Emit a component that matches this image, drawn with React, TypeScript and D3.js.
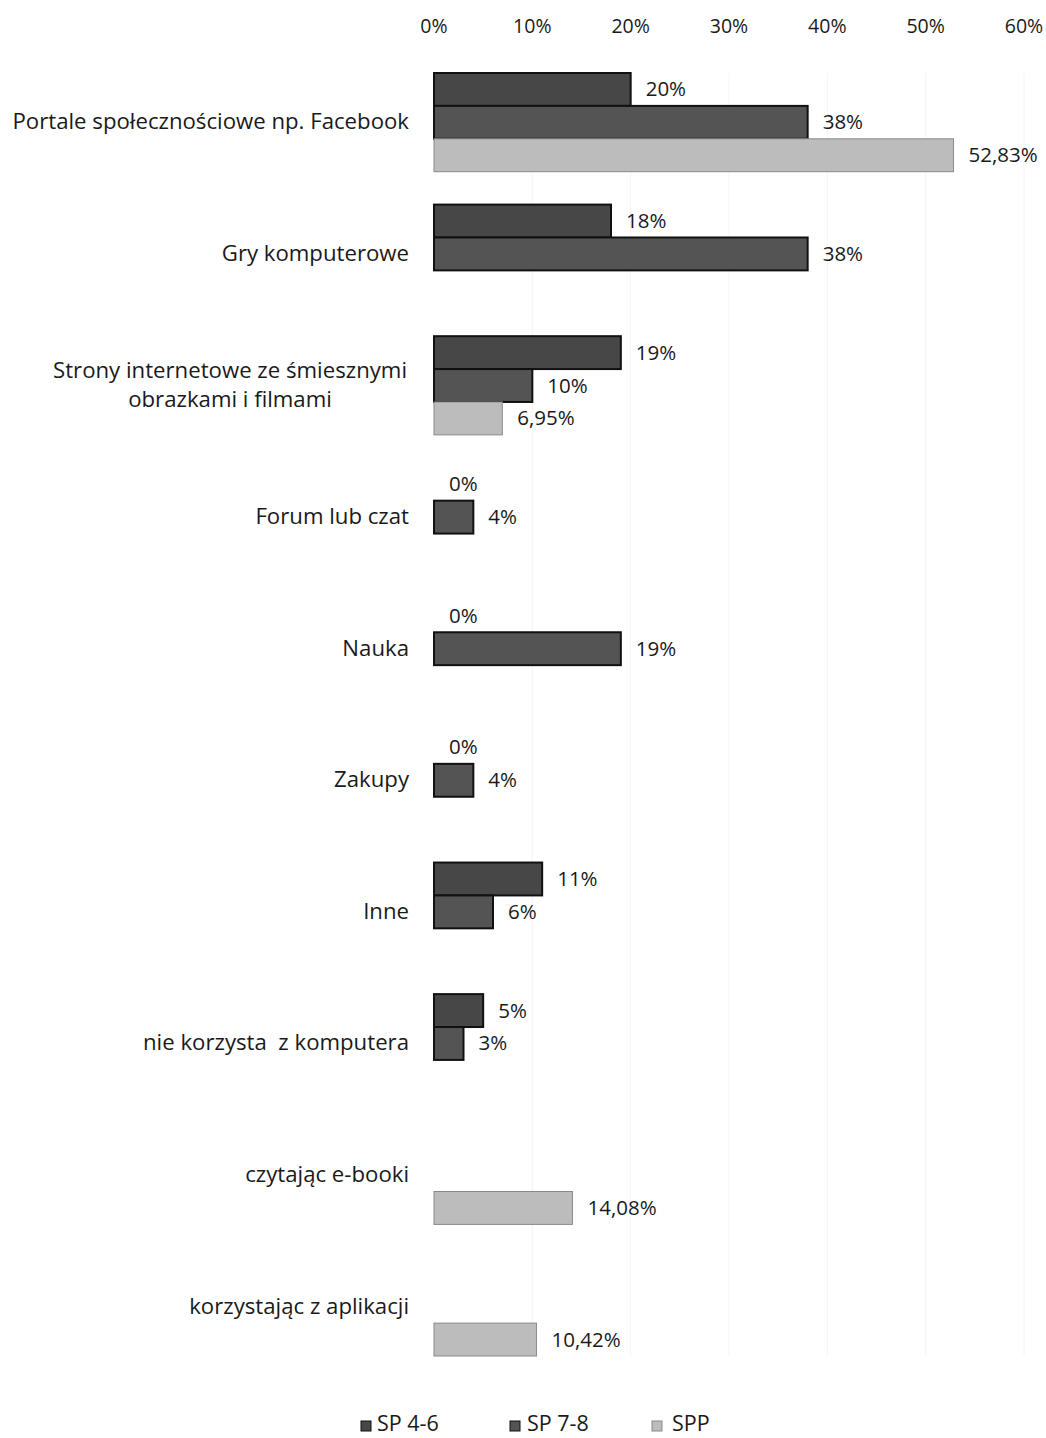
import * as d3 from "d3";

const categories = [
  ["Portale społecznościowe np. Facebook"],
  ["Gry komputerowe"],
  ["Strony internetowe ze śmiesznymi", "obrazkami i filmami"],
  ["Forum lub czat"],
  ["Nauka"],
  ["Zakupy"],
  ["Inne"],
  ["nie korzysta  z komputera"],
  ["czytając e-booki"],
  ["korzystając z aplikacji"],
];

const seriesNames = ["SP 4-6", "SP 7-8", "SPP"];
const seriesColors = ["#474747", "#545454", "#bcbcbc"];
const seriesStroke = ["#111111", "#111111", "#8a8a8a"];

// null = no bar for that group
const sp46 = [20, 18, 19, 0, 0, 0, 11, 5, null, null];
const sp78 = [38, 38, 10, 4, 19, 4, 6, 3, null, null];
const spp = [52.83, null, 6.95, null, null, null, null, null, 14.08, 10.42];

const ticks = [0, 10, 20, 30, 40, 50, 60];

const fmt = (v: number) =>
  Number.isInteger(v) ? `${v}%` : `${v.toFixed(2).replace(".", ",")}%`;

export default function App() {
  const width = 1046;
  const height = 1438;
  const font = "'Open Sans', sans-serif";

  const x = d3.scaleLinear().domain([0, 60]).range([434, 1024]);
  const keys = categories.map((_, i) => String(i));
  const y = d3
    .scaleBand<string>()
    .domain(keys)
    .range([73, 1356])
    .paddingInner(0.25)
    .paddingOuter(0);
  const inner = d3
    .scaleBand<number>()
    .domain([0, 1, 2])
    .range([0, y.bandwidth()]);

  const allSeries = [sp46, sp78, spp];

  return (
    <div style={{ position: "absolute", left: 0, top: 0 }}>
      <svg width={width} height={height} style={{ background: "#fff", display: "block" }}>
        {/* top axis labels */}
        {ticks.map((t) => (
          <text
            key={t}
            x={x(t)}
            y={33}
            textAnchor="middle"
            fontFamily={font}
            fontSize={19.5}
            fill="#1a1a1a"
          >
            {t}%
          </text>
        ))}

        {/* faint grid */}
        {ticks.slice(1).map((t) => (
          <line
            key={"g" + t}
            x1={x(t)}
            x2={x(t)}
            y1={73}
            y2={1356}
            stroke="#f4f4f4"
            strokeWidth={1}
          />
        ))}

        {categories.map((lines, ci) => {
          const y0 = y(String(ci))!;
          const cy = y0 + y.bandwidth() / 2;
          const lh = 29;
          const startY = cy - ((lines.length - 1) * lh) / 2 + 7;
          const multi = lines.length > 1;
          return (
            <g key={ci}>
              {lines.map((ln, li) => (
                <text
                  key={li}
                  x={multi ? 230 : 409}
                  y={startY + li * lh}
                  textAnchor={multi ? "middle" : "end"}
                  fontFamily={font}
                  fontSize={22.2}
                  fill="#1a1a1a"
                  style={{ whiteSpace: "pre" }}
                >
                  {ln}
                </text>
              ))}
              {allSeries.map((s, si) => {
                const v = s[ci];
                if (v === null) return null;
                const by = y0 + inner(si)!;
                const bh = inner.bandwidth();
                return (
                  <g key={si}>
                    {v > 0 && (
                      <rect
                        x={x(0)}
                        y={by}
                        width={x(v) - x(0)}
                        height={bh}
                        fill={seriesColors[si]}
                        stroke={seriesStroke[si]}
                        strokeWidth={si === 2 ? 1 : 2}
                      />
                    )}
                    <text
                      x={x(v) + 15}
                      y={by + bh / 2 + 7}
                      fontFamily={font}
                      fontSize={20.5}
                      fill="#1a1a1a"
                    >
                      {fmt(v)}
                    </text>
                  </g>
                );
              })}
            </g>
          );
        })}

        {/* legend */}
        {seriesNames.map((n, i) => {
          const lx = [361, 510, 652][i];
          const tx = [377, 527, 672][i];
          return (
            <g key={n}>
              <rect
                x={lx}
                y={1421}
                width={10}
                height={10}
                fill={seriesColors[i]}
                stroke={seriesStroke[i]}
                strokeWidth={1}
              />
              <text x={tx} y={1431} fontFamily={font} fontSize={21.5} fill="#1a1a1a">
                {n}
              </text>
            </g>
          );
        })}
      </svg>
    </div>
  );
}
